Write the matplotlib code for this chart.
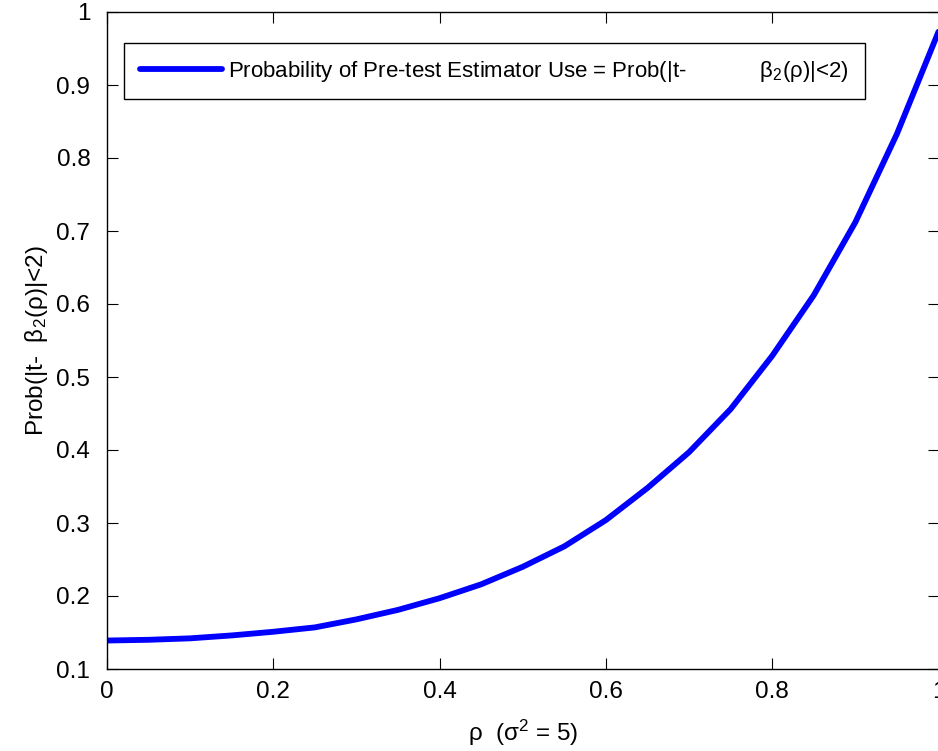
import matplotlib
matplotlib.use("Agg")
import matplotlib.pyplot as plt

plt.rcParams['font.family'] = ['Liberation Sans', 'DejaVu Sans']
plt.rcParams['mathtext.fontset'] = 'custom'
plt.rcParams['mathtext.rm'] = 'Liberation Sans'
plt.rcParams['mathtext.it'] = 'Liberation Sans'

rho = [0.0, 0.05, 0.10, 0.15, 0.20, 0.25, 0.30, 0.35, 0.40, 0.45, 0.50,
       0.55, 0.60, 0.65, 0.70, 0.75, 0.80, 0.85, 0.90, 0.95, 1.0]
prob = [0.139, 0.140, 0.142, 0.146, 0.151, 0.157, 0.168, 0.181, 0.197, 0.216, 0.240,
        0.268, 0.304, 0.348, 0.397, 0.456, 0.529, 0.612, 0.712, 0.833, 0.973]

xticks = [0, 0.2, 0.4, 0.6, 0.8, 1]
xticklabels = ['0', '0.2', '0.4', '0.6', '0.8', '1']
yticks = [0.1, 0.2, 0.3, 0.4, 0.5, 0.6, 0.7, 0.8, 0.9, 1]
yticklabels = ['0.1', '0.2', '0.3', '0.4', '0.5', '0.6', '0.7', '0.8', '0.9', '1']

legend_label = 'Probability of Pre-test Estimator Use = Prob(|t-' + ' ' * 12 + r'β$_2$(ρ)|<2)'
xlabel = r'ρ  (σ$^2$ = 5)'
ylabel = r'Prob(|t-  β$_2$(ρ)|<2)'

fig = plt.figure(figsize=(9.38, 7.51), dpi=100)
ax = fig.add_axes([107 / 938, 1 - 669 / 751, 831.5 / 938, 657 / 751])
ax.plot(rho, prob, color='#0000ff', lw=4.2, label=legend_label, solid_capstyle='round')
ax.set_xlim(0, 1)
ax.set_ylim(0.1, 1)
ax.set_xticks(xticks)
ax.set_xticklabels(xticklabels)
ax.set_yticks(yticks)
ax.set_yticklabels(yticklabels)
ax.tick_params(direction='in', length=8, width=0.8, top=True, right=True,
               labelsize=17.5)
ax.tick_params(axis='y', pad=12)
ax.tick_params(axis='x', pad=9)
for s in ax.spines.values():
    s.set_linewidth(1.0)
ax.set_xlabel(xlabel, fontsize=17.5, labelpad=10)
ax.set_ylabel(ylabel, fontsize=17.5, labelpad=5)

leg = ax.legend(loc='upper left', bbox_to_anchor=(17 / 831.5, 1 - 31 / 657),
                fontsize=16, frameon=True, fancybox=False, framealpha=1,
                edgecolor='black', handlelength=3.7, handletextpad=0.3,
                borderpad=0.7, borderaxespad=0)
leg.get_frame().set_linewidth(1.0)

fig.savefig('out.png', dpi=100)
